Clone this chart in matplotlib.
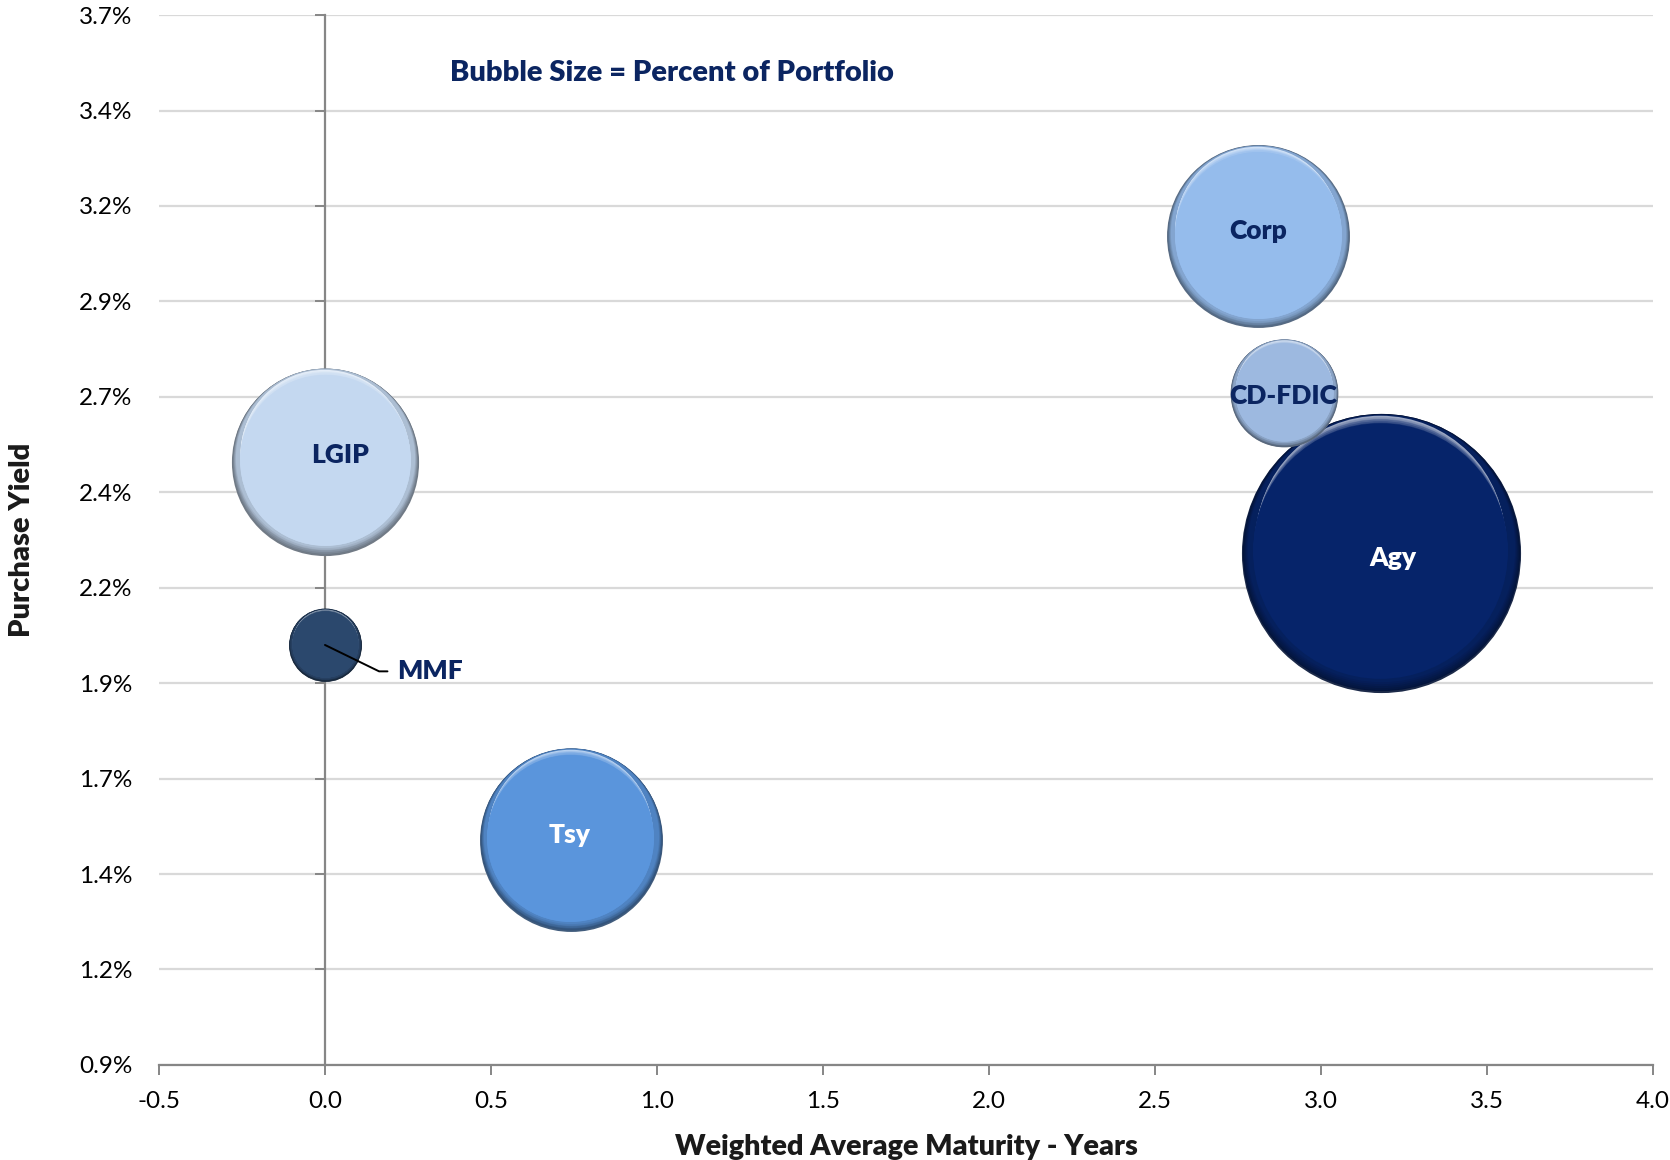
#!/usr/bin/env python3
"""Portfolio bubble chart: purchase yield vs weighted average maturity."""

import matplotlib
matplotlib.use('Agg')
import matplotlib.pyplot as plt
import matplotlib.transforms as mtransforms
import numpy as np
from matplotlib.colors import to_rgb

# ---- data ----
categories = ['LGIP', 'MMF', 'Tsy', 'Corp', 'CD-FDIC', 'Agy']
wam_years = [0.0, 0.0, 0.74, 2.81, 2.89, 3.18]
purchase_yield = [2.48, 2.00, 1.49, 3.07, 2.66, 2.24]     # percent
pct_portfolio = [17.8, 2.7, 17.0, 17.0, 5.9, 39.6]         # bubble size

x_ticks = [-0.5, 0.0, 0.5, 1.0, 1.5, 2.0, 2.5, 3.0, 3.5, 4.0]
y_ticks = [0.9, 1.15, 1.4, 1.65, 1.9, 2.15, 2.4, 2.65, 2.9, 3.15, 3.4, 3.65]
y_tick_labels = ['0.9%', '1.2%', '1.4%', '1.7%', '1.9%', '2.2%',
                 '2.4%', '2.7%', '2.9%', '3.2%', '3.4%', '3.7%']

# ---- style ----
fill_colors = ['#C4D8F0', '#2B486D', '#5A95DC', '#95BCEC', '#9DB9E0', '#06246A']
label_colors = ['#0B2561', '#0B2561', 'white', '#0B2561', '#0B2561', 'white']
label_offsets = [(11, 5), (0, 0), (-1, 3), (0, 4), (-1, -2), (9, -3)]  # points
NAVY = '#0B2561'
AXIS_GREY = '#868686'
GRID_GREY = '#D9D9D9'
SIZE_SCALE = 1020.0   # points^2 per percent of portfolio
BOLD = 'heavy'

plt.rcParams['font.family'] = ['Lato', 'DejaVu Sans']


def mix(c1, c2, t):
    a = np.array(to_rgb(c1))
    b = np.array(to_rgb(c2))
    return tuple(a + (b - a) * t)


def draw_bubble(ax, fig, x, y, s, color, z):
    """Layered circles to mimic Excel's bevelled bubble."""
    R = np.sqrt(s) / 2.0
    dark = mix(color, 'black', 0.5)
    mid = mix(color, 'black', 0.12)
    light = mix(color, 'white', 0.6)
    layer = [0]

    def circle(a, b, c, dx=0.0):
        # a, b: gap from the top / bottom edge as a fraction of R
        r = R * (1 - (a + b) / 2)
        dy = R * (b - a) / 2
        tr = mtransforms.offset_copy(ax.transData, fig=fig, x=dx * R, y=dy,
                                     units='points')
        layer[0] += 1
        ax.scatter([x], [y], s=(2 * r) ** 2, color=c, linewidths=0,
                   transform=tr, zorder=z + 0.01 * layer[0])

    circle(0, 0, mix(dark, 'white', 0.1))
    steps = 6
    for k in range(1, steps + 1):
        t = k / steps
        circle(0.004 * t, 0.08 * t, mix(dark, mid, t))
    # top highlight crescent
    circle(0.012, 0.20, light, dx=-0.008)
    steps = 6
    for k in range(1, steps + 1):
        t = k / steps
        circle(0.012 + 0.055 * t, 0.20 - 0.09 * t, mix(light, color, t),
               dx=-0.008 + 0.006 * t)
    circle(0.07, 0.105, color, dx=-0.002)


fig = plt.figure(figsize=(16.7, 11.6), dpi=100)
ax = fig.add_axes([0.0952, 0.082, 0.8946, 0.905])

xmin, xmax = -0.5, 4.0
ymin, ymax = 0.9, 3.65
ax.set_xlim(xmin, xmax)
ax.set_ylim(ymin, ymax)

# grid and spines
ax.set_yticks(y_ticks)
ax.set_yticklabels(y_tick_labels)
ax.set_xticks(x_ticks)
ax.set_xticklabels([f'{v:.1f}' for v in x_ticks])
ax.yaxis.grid(True, color=GRID_GREY, linewidth=1.6)
ax.set_axisbelow(True)
for side in ['top', 'right', 'left']:
    ax.spines[side].set_visible(False)
ax.spines['bottom'].set_color(AXIS_GREY)
ax.spines['bottom'].set_linewidth(1.6)
ax.tick_params(axis='x', direction='out', length=7, width=1.4, color=AXIS_GREY,
               labelsize=17.5, pad=12)
ax.tick_params(axis='y', length=0, labelsize=17.5, pad=19)

# vertical axis line crossing at x = 0
sec = ax.secondary_yaxis((0 - xmin) / (xmax - xmin))
sec.set_yticks(y_ticks)
sec.set_yticklabels([])
sec.tick_params(axis='y', direction='out', length=7, width=1.4, color=AXIS_GREY)
sec.spines['left'].set_color(AXIS_GREY)
sec.spines['left'].set_linewidth(1.6)
sec.set_zorder(1.5)

# bubbles (largest first so the small ones sit on top)
order = np.argsort(pct_portfolio)[::-1]
for rank, i in enumerate(order):
    draw_bubble(ax, fig, wam_years[i], purchase_yield[i],
                pct_portfolio[i] * SIZE_SCALE, fill_colors[i], 3 + rank)

# labels
for i, name in enumerate(categories):
    if name == 'MMF':
        ax.annotate(name, xy=(wam_years[i], purchase_yield[i]),
                    xytext=(52, -19), textcoords='offset points',
                    ha='left', va='center', fontsize=19, fontweight=BOLD,
                    color=NAVY, zorder=20,
                    arrowprops=dict(arrowstyle='-', color='black', lw=1.4,
                                    relpos=(0, 0.5), shrinkA=5, shrinkB=0,
                                    connectionstyle='angle,angleA=0,angleB=-26,rad=0'))
        continue
    dx, dy = label_offsets[i]
    ax.annotate(name, xy=(wam_years[i], purchase_yield[i]),
                xytext=(dx, dy), textcoords='offset points',
                ha='center', va='center', fontsize=19, fontweight=BOLD,
                color=label_colors[i], zorder=20)

ax.text(0.195, 0.945, 'Bubble Size = Percent of Portfolio', transform=ax.transAxes,
        ha='left', va='center', fontsize=21, fontweight=BOLD, color=NAVY)

ax.set_xlabel('Weighted Average Maturity - Years', fontsize=20.7, fontweight=BOLD,
              color='#1a1a1a', labelpad=16)
ax.set_ylabel('Purchase Yield', fontsize=21, fontweight=BOLD, color='#1a1a1a',
              labelpad=32)

fig.savefig('out.png', dpi=100)
plt.close(fig)
